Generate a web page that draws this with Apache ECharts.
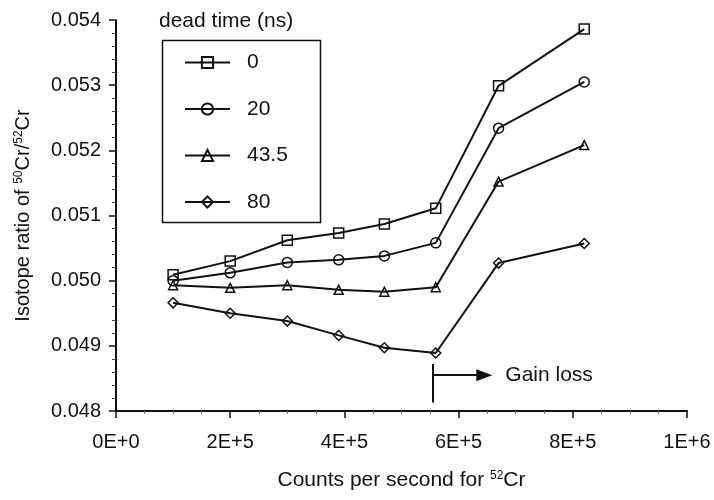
<!DOCTYPE html>
<html>
<head>
<meta charset="utf-8">
<script src="https://cdn.jsdelivr.net/npm/echarts@6/dist/echarts.min.js"></script>
<style>
  html, body { margin: 0; padding: 0; background: #fff; }
  #chart { width: 714px; height: 500px; }
</style>
</head>
<body>
<div id="chart"></div>
<script>
// counts per second for 52Cr
const counts = [1.0e5, 2.0e5, 3.0e5, 3.9e5, 4.7e5, 5.6e5, 6.7e5, 8.2e5];
// isotope ratio 50Cr/52Cr for each dead time
const deadTimes = ['0', '20', '43.5', '80'];
const ratio0 = [0.05009, 0.05030, 0.05062, 0.05073, 0.05087, 0.05111, 0.05299, 0.05386];
const ratio20 = [0.05000, 0.05012, 0.05028, 0.05032, 0.05038, 0.05058, 0.05234, 0.05305];
const ratio43 = [0.04993, 0.04989, 0.04993, 0.04986, 0.04983, 0.04990, 0.05152, 0.05208];
const ratio80 = [0.04966, 0.04950, 0.04938, 0.04916, 0.04897, 0.04889, 0.05027, 0.05057];
const symbols = ['rect', 'circle', 'triangle', 'diamond'];
// gain loss annotation (data coords)
const gainX = 5.55e5;
const gainY = [0.04813, 0.04872];
const arrowY = 0.04855;
const arrowEndX = 6.45e5;

const ink = '#111';
const font = '"Liberation Sans", Arial, sans-serif';

const chart = echarts.init(document.getElementById('chart'));

const allRatios = [ratio0, ratio20, ratio43, ratio80];

const series = allRatios.map((vals, i) => ({
  name: deadTimes[i],
  type: 'line',
  data: vals.map((v, j) => [counts[j], v]),
  symbol: symbols[i],
  symbolSize: symbols[i] === 'triangle' ? 9 : 10,
  showAllSymbol: true,
  lineStyle: { color: ink, width: 2 },
  itemStyle: { color: 'rgba(255,255,255,0)', borderColor: ink, borderWidth: 1.5 },
  emphasis: { disabled: true },
  z: 3
}));

// gain loss marker on the last series
series[3].markLine = {
  silent: true,
  animation: false,
  lineStyle: { color: ink, width: 2, type: 'solid' },
  label: { show: false },
  data: [
    [
      { coord: [gainX, gainY[0]], symbol: 'none' },
      { coord: [gainX, gainY[1]], symbol: 'none' }
    ],
    [
      { coord: [gainX, arrowY], symbol: 'none' },
      {
        coord: [arrowEndX, arrowY],
        symbol: 'triangle',
        symbolSize: [12, 16],
        symbolRotate: -90,
        label: {
          show: true,
          position: 'end',
          distance: 21,
          formatter: 'Gain loss',
          color: ink,
          fontSize: 21,
          fontFamily: font
        }
      }
    ]
  ]
};

const supStyle = { fontSize: 12, verticalAlign: 'top', padding: [0, 0, 9, 0], color: ink, fontFamily: font };

const option = {
  backgroundColor: '#fff',
  animation: false,
  textStyle: { fontFamily: font, color: ink },
  grid: { left: 116, right: 27, top: 20, bottom: 89 },
  title: {
    text: 'dead time (ns)',
    left: 154,
    top: 6,
    textStyle: { fontSize: 21, fontWeight: 'normal', color: ink, fontFamily: font }
  },
  legend: {
    orient: 'vertical',
    left: 184,
    top: 52,
    padding: 0,
    itemWidth: 45,
    itemHeight: 14,
    itemGap: 25.5,
    data: deadTimes,
    textStyle: { fontSize: 21, color: ink, fontFamily: font, lineHeight: 20, padding: [0, 0, 0, 12] }
  },
  graphic: [
    {
      type: 'rect',
      left: 160,
      top: 38,
      shape: { width: 158, height: 182 },
      style: { fill: 'none', stroke: ink, lineWidth: 1.5 },
      silent: true
    }
  ],
  xAxis: {
    type: 'value',
    min: 0,
    max: 1e6,
    interval: 2e5,
    name: 'Counts per second for {sup|52}Cr',
    nameLocation: 'middle',
    nameGap: 59,
    nameTextStyle: {
      fontSize: 21,
      color: ink,
      fontFamily: font,
      rich: { sup: supStyle }
    },
    splitLine: { show: false },
    axisLine: { show: true, lineStyle: { color: ink, width: 2 } },
    axisTick: { show: true, length: 7, lineStyle: { color: ink, width: 1.5 } },
    minorTick: { show: true, splitNumber: 4, length: 3, lineStyle: { color: '#666', width: 1 } },
    axisLabel: {
      margin: 21,
      fontSize: 20,
      color: ink,
      formatter: v => v.toExponential(0).toUpperCase()
    }
  },
  yAxis: {
    type: 'value',
    min: 0.048,
    max: 0.054,
    interval: 0.001,
    name: 'Isotope ratio of {sup|50}Cr/{sup|52}Cr',
    nameLocation: 'middle',
    nameGap: 82,
    nameTextStyle: {
      fontSize: 20,
      color: ink,
      fontFamily: font,
      rich: { sup: supStyle }
    },
    splitLine: { show: false },
    axisLine: { show: true, lineStyle: { color: ink, width: 2 } },
    axisTick: { show: true, length: 7, lineStyle: { color: ink, width: 1.5 } },
    minorTick: { show: true, splitNumber: 5, length: 4, lineStyle: { color: '#444', width: 1 } },
    axisLabel: {
      margin: 15,
      fontSize: 20,
      color: ink,
      formatter: v => v.toFixed(3)
    }
  },
  series: series
};

chart.setOption(option);
</script>
</body>
</html>
